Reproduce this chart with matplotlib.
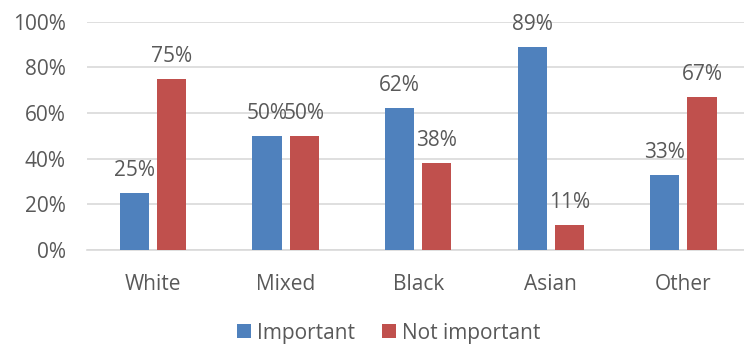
import numpy as np
import matplotlib
matplotlib.use("Agg")
import matplotlib.pyplot as plt
from matplotlib.ticker import FuncFormatter

categories = ["White", "Mixed", "Black", "Asian", "Other"]
important = [25, 50, 62, 89, 33]
not_important = [75, 50, 38, 11, 67]
series_names = ["Important", "Not important"]

blue = "#4F81BD"
red = "#C0504D"
grey_text = "#595959"
grid_col = "#D9D9D9"

plt.rcParams["font.family"] = ["Open Sans", "DejaVu Sans"]
plt.rcParams["font.size"] = 15

fig = plt.figure(figsize=(7.44, 3.44), dpi=100)
ax = fig.add_axes([86.7 / 744, 94 / 344, 663 / 744, 228.3 / 344])

x = np.arange(len(categories))
w = 0.22
off = 0.14
b1 = ax.bar(x - off, important, w, color=blue, label=series_names[0], zorder=3)
b2 = ax.bar(x + off, not_important, w, color=red, label=series_names[1], zorder=3)

# value labels sit a fixed distance above each bar
for bars, vals in ((b1, important), (b2, not_important)):
    for rect, v in zip(bars, vals):
        ax.annotate(f"{v}%", (rect.get_x() + rect.get_width() / 2, v),
                    xytext=(0, 17), textcoords="offset pixels",
                    ha="center", va="baseline", color=grey_text)

ax.set_xlim(-0.5, len(categories) - 0.5)
ax.set_ylim(0, 100)
ax.set_yticks(np.arange(0, 101, 20))
ax.yaxis.set_major_formatter(FuncFormatter(lambda v, p: f"{v:.0f}%"))
ax.set_xticks(x)
ax.set_xticklabels(categories)
ax.tick_params(length=0, colors=grey_text, labelsize=15)
ax.tick_params(axis="x", pad=17)
ax.tick_params(axis="y", pad=15)
ax.grid(axis="y", color=grid_col, linewidth=1.2, zorder=0)
for s in ["top", "right", "left"]:
    ax.spines[s].set_visible(False)
ax.spines["bottom"].set_color(grid_col)
ax.spines["bottom"].set_linewidth(1.2)

fig.legend(loc="center", bbox_to_anchor=(389 / 744, 11 / 344), ncol=2,
           frameon=False, handlelength=0.65, handleheight=0.65,
           handletextpad=0.3, columnspacing=1.3, labelcolor=grey_text,
           fontsize=15, borderpad=0.2)

fig.savefig("out.png", dpi=100)
